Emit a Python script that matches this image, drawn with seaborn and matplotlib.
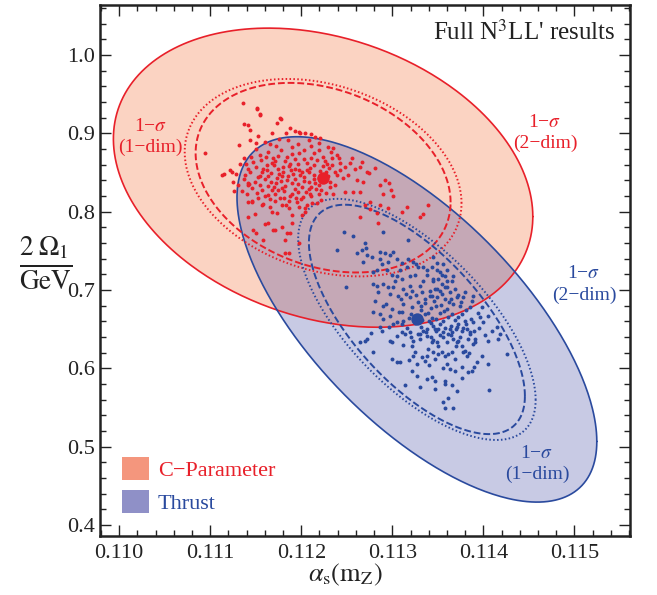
import numpy as np
import matplotlib
matplotlib.use("Agg")
import matplotlib.pyplot as plt
import seaborn as sns
import pandas as pd
from matplotlib.patches import Patch
from matplotlib.ticker import MultipleLocator, FormatStrFormatter

# best fit points
red_center = [0.11224, 0.8433]
blue_center = [0.11327, 0.6624]
# 1-dim uncertainties (sigma_x, sigma_y, rho): total (dotted) and theory-only (dashed)
red_total = [0.00152, 0.1260, -0.26]
red_dashed = [0.00140, 0.1210, -0.26]
blue_total = [0.001304, 0.1539, -0.668]
blue_dashed = [0.001186, 0.1464, -0.668]
two_dim_scale = 1.515  # sqrt(2.3)

# scan points
red_pts = [
    (0.11136,0.9389),(0.11151,0.9325),(0.11155,0.9236),(0.11177,0.9197),(0.11173,0.9134),(0.11188,0.9070),
    (0.11199,0.9006),(0.11141,0.9108),(0.11144,0.9045),(0.11151,0.9312),(0.11155,0.9248),(0.11178,0.9185),
    (0.11137,0.9121),(0.11144,0.8917),(0.11132,0.8853),(0.11153,0.8968),(0.11168,0.9006),(0.11183,0.9006),
    (0.11193,0.9032),(0.11198,0.9019),(0.11204,0.9006),(0.11211,0.8994),(0.11215,0.8955),(0.11221,0.8943),
    (0.11137,0.8688),(0.11133,0.8612),(0.11124,0.8510),(0.11115,0.8484),(0.11128,0.8484),(0.11131,0.8344),
    (0.11126,0.8268),(0.11141,0.8369),(0.11143,0.8357),(0.11122,0.8535),(0.11113,0.8471),(0.11125,0.8382),
    (0.11094,0.8752),
    (0.11235,0.8815),(0.11234,0.8688),(0.11243,0.8624),(0.11248,0.8573),(0.11254,0.8624),(0.11259,0.8548),
    (0.11265,0.8573),(0.11267,0.8637),(0.11272,0.8510),(0.11274,0.8497),(0.11281,0.8561),(0.11287,0.8344),
    (0.11292,0.8408),(0.11296,0.8369),(0.11299,0.8280),(0.11301,0.8204),(0.11290,0.8229),(0.11268,0.8382),
    (0.11261,0.8408),(0.11257,0.8255),(0.11265,0.8255),(0.11248,0.8255),(0.11239,0.8471),(0.11237,0.8344),
    (0.11235,0.8229),(0.11246,0.8433),(0.11251,0.8471),(0.11243,0.8535),(0.11256,0.8688),(0.11239,0.8726),
    (0.11234,0.8599),
    (0.11284,0.7860),(0.11265,0.7936),(0.11276,0.8038),(0.11287,0.8089),(0.11295,0.8051),(0.11283,0.7987),
    (0.11311,0.8000),(0.11316,0.8064),(0.11330,0.7936),(0.11334,0.7975),(0.11339,0.8089),(0.11276,0.8127),
    (0.11270,0.8089),
    (0.11160,0.7847),(0.11164,0.7860),(0.11150,0.7733),(0.11171,0.7771),(0.11179,0.7809),(0.11190,0.7860),
    (0.11184,0.7733),(0.11188,0.7733),(0.11182,0.7643),(0.11197,0.7605),(0.11182,0.7478),(0.11186,0.7478),
    (0.11142,0.7936),(0.11149,0.7975),(0.11168,0.8000),(0.11173,0.7987),(0.11190,0.7962),(0.11201,0.7962),
    (0.11204,0.8000),(0.11141,0.8127),(0.11146,0.8127),(0.11157,0.8089),(0.11166,0.8064),(0.11179,0.8089),
    (0.11186,0.8051),(0.11197,0.8064),(0.11204,0.8051),(0.11212,0.8115),(0.11147,0.7771),(0.11169,0.7771),
    (0.11158,0.7643),
    (0.11160,0.889),(0.11172,0.884),(0.11185,0.891),(0.11196,0.886),(0.11208,0.892),(0.11219,0.887),
    (0.11229,0.882),(0.11150,0.880),(0.11163,0.876),(0.11178,0.878),(0.11190,0.873),(0.11203,0.879),
    (0.11214,0.875),(0.11224,0.870),(0.11233,0.876),(0.11145,0.870),(0.11156,0.866),(0.11169,0.869),
    (0.11182,0.864),(0.11193,0.867),(0.11206,0.862),(0.11217,0.866),(0.11228,0.861),(0.11139,0.861),
    (0.11150,0.857),(0.11162,0.860),(0.11174,0.855),(0.11187,0.858),(0.11198,0.853),(0.11210,0.856),
    (0.11221,0.852),(0.11231,0.856),(0.11144,0.850),(0.11155,0.846),(0.11167,0.849),(0.11179,0.845),
    (0.11191,0.848),(0.11203,0.844),(0.11214,0.847),(0.11229,0.845),(0.11137,0.842),(0.11149,0.838),
    (0.11160,0.841),(0.11172,0.836),(0.11184,0.840),(0.11196,0.835),(0.11208,0.838),(0.11219,0.834),
    (0.11232,0.838),(0.11146,0.830),(0.11157,0.827),(0.11170,0.831),(0.11181,0.826),(0.11193,0.829),
    (0.11205,0.825),(0.11216,0.829),(0.11227,0.824),(0.11140,0.822),(0.11152,0.818),(0.11164,0.821),
    (0.11177,0.817),(0.11188,0.820),(0.11200,0.816),(0.11211,0.820),(0.11222,0.815),(0.11158,0.810),
    (0.11171,0.813),(0.11183,0.809),(0.11195,0.812),(0.11206,0.808),(0.11217,0.811),
    (0.11166,0.886),(0.11190,0.882),(0.11211,0.884),(0.11155,0.872),(0.11175,0.871),(0.11198,0.875),
    (0.11219,0.879),(0.11147,0.863),(0.11168,0.862),(0.11188,0.861),(0.11211,0.869),(0.11224,0.858),
    (0.11142,0.854),(0.11162,0.853),(0.11180,0.851),(0.11201,0.850),(0.11219,0.843),(0.11152,0.844),
    (0.11173,0.843),(0.11193,0.841),(0.11211,0.832),(0.11142,0.834),(0.11163,0.833),(0.11182,0.833),
    (0.11201,0.831),(0.11222,0.828),(0.11151,0.824),(0.11171,0.823),(0.11190,0.823),(0.11210,0.822),
    (0.11146,0.813),(0.11166,0.816),(0.11187,0.814),(0.11202,0.819),(0.11180,0.857),(0.11193,0.855),
    (0.11167,0.838),(0.11175,0.828),(0.11185,0.846),(0.11157,0.850),(0.11206,0.853),
    (0.11161,0.8695),(0.11171,0.8640),(0.11184,0.8700),(0.11196,0.8605),(0.11203,0.8675),(0.11214,0.8590),
    (0.11226,0.8650),(0.11158,0.8545),(0.11170,0.8590),(0.11176,0.8485),(0.11189,0.8530),(0.11199,0.8470),
    (0.11209,0.8505),(0.11214,0.8410),(0.11227,0.8505),(0.11164,0.8455),(0.11178,0.8395),(0.11190,0.8365),
    (0.11203,0.8395),(0.11215,0.8370),(0.11155,0.8335),(0.11168,0.8280),(0.11179,0.8300),(0.11196,0.8245),
    (0.11208,0.8290),(0.11220,0.8225),(0.11160,0.8195),(0.11181,0.8180),(0.11194,0.8170),(0.11232,0.8310),
    (0.11237,0.8510),(0.11241,0.8680),(0.11176,0.8930),(0.11150,0.8880),(0.11138,0.8470),(0.11135,0.8260),
]

blue_pts = [
    (0.11247,0.7745),(0.11257,0.7694),(0.11239,0.7516),(0.11290,0.7745),(0.11317,0.7643),(0.11270,0.7605),
    (0.11267,0.7516),(0.11271,0.7541),(0.11272,0.7452),(0.11261,0.7478),(0.11268,0.7363),(0.11278,0.7427),
    (0.11287,0.7490),(0.11292,0.7478),(0.11297,0.7452),(0.11301,0.7490),(0.11287,0.7389),(0.11289,0.7325),
    (0.11295,0.7363),(0.11305,0.7389),(0.11311,0.7350),(0.11317,0.7389),(0.11323,0.7363),(0.11326,0.7325),
    (0.11316,0.7287),(0.11308,0.7261),(0.11294,0.7261),(0.11283,0.7261),(0.11279,0.7223),(0.11300,0.7197),
    (0.11305,0.7172),(0.11303,0.7108),(0.11311,0.7134),(0.11319,0.7172),(0.11325,0.7197),(0.11328,0.7287),
    (0.11334,0.7299),(0.11338,0.7261),(0.11338,0.7197),(0.11349,0.7261),(0.11355,0.7197),(0.11360,0.7108),
    (0.11345,0.7134),(0.11334,0.7108),(0.11330,0.7045),(0.11319,0.7045),(0.11312,0.7006),(0.11301,0.7032),
    (0.11295,0.7032),(0.11290,0.7070),(0.11283,0.7045),(0.11284,0.6968),(0.11279,0.7070),(0.11249,0.7032),
    (0.11297,0.6943),(0.11306,0.6917),(0.11319,0.6904),(0.11333,0.6968),(0.11341,0.6981),(0.11349,0.7006),
    (0.11358,0.7032),(0.11363,0.6968),(0.11349,0.6904),(0.11336,0.6879),(0.11328,0.6841),(0.11312,0.6815),
    (0.11290,0.6790),(0.11281,0.6853),
    (0.11279,0.6713),(0.11287,0.6688),(0.11290,0.6624),(0.11297,0.6662),(0.11305,0.6586),(0.11311,0.6713),
    (0.11301,0.6561),(0.11287,0.6523),(0.11289,0.6471),(0.11277,0.6446),(0.11272,0.6369),(0.11265,0.6331),
    (0.11270,0.6344),(0.11297,0.6344),(0.11300,0.6331),(0.11279,0.6204),(0.11311,0.6459),(0.11314,0.6433),
    (0.11323,0.6344),(0.11322,0.6280),(0.11325,0.6204),(0.11323,0.6153),(0.11333,0.6140),(0.11336,0.6089),
    (0.11338,0.6153),(0.11339,0.6242),(0.11330,0.6369),(0.11328,0.6433),(0.11334,0.6471),(0.11338,0.6408),
    (0.11300,0.6115),(0.11305,0.6076),(0.11308,0.6076),(0.11322,0.5962),(0.11327,0.5898),(0.11314,0.5783),
    (0.11338,0.5860),(0.11311,0.6561),(0.11319,0.6459),
    (0.11347,0.6497),(0.11344,0.6331),(0.11349,0.6331),(0.11345,0.6204),(0.11350,0.6178),(0.11347,0.6115),
    (0.11355,0.6204),(0.11358,0.6153),(0.11361,0.6178),(0.11366,0.6204),(0.11369,0.6115),(0.11378,0.6204),
    (0.11382,0.6153),(0.11380,0.6217),(0.11377,0.6280),(0.11371,0.6331),(0.11367,0.6369),(0.11361,0.6433),
    (0.11356,0.6459),(0.11363,0.6497),(0.11371,0.6523),(0.11377,0.6471),(0.11382,0.6497),(0.11385,0.6459),
    (0.11391,0.6369),(0.11389,0.6306),(0.11400,0.6586),(0.11405,0.6662),(0.11389,0.6586),(0.11396,0.6650),
    (0.11409,0.6471),(0.11405,0.6344),(0.11416,0.6369),(0.11426,0.6178),(0.11393,0.6076),(0.11405,0.6051),
    (0.11388,0.5962),(0.11383,0.5949),(0.11377,0.6013),(0.11360,0.6051),(0.11363,0.5987),(0.11369,0.5962),
    (0.11344,0.5885),(0.11347,0.5834),(0.11358,0.5834),(0.11358,0.5796),(0.11347,0.5732),(0.11371,0.5707),
    (0.11406,0.5720),(0.11361,0.5618),(0.11356,0.5567),(0.11358,0.5491),(0.11367,0.5491),(0.11385,0.6433),
    (0.11415,0.6523),(0.11418,0.6433),
    (0.11345,0.7427),(0.11349,0.7350),(0.11344,0.7299),(0.11356,0.7325),(0.11360,0.7261),(0.11367,0.7172),
    (0.11366,0.7108),(0.11358,0.7172),(0.11352,0.7223),(0.11350,0.7134),(0.11345,0.7108),(0.11355,0.7070),
    (0.11360,0.7032),(0.11347,0.7006),(0.11352,0.6981),(0.11369,0.7006),(0.11371,0.6904),(0.11378,0.6904),
    (0.11380,0.6968),(0.11389,0.6917),(0.11358,0.6879),(0.11344,0.6917),
    (0.11322,0.6780),(0.11331,0.6745),(0.11342,0.6770),(0.11353,0.6810),(0.11360,0.6760),(0.11367,0.6820),
    (0.11374,0.6790),(0.11381,0.6740),(0.11352,0.6700),(0.11361,0.6660),(0.11344,0.6640),(0.11336,0.6690),
    (0.11318,0.6640),(0.11312,0.6600),(0.11340,0.6600),(0.11352,0.6560),(0.11369,0.6620),(0.11377,0.6690),
    (0.11386,0.6630),(0.11394,0.6700),(0.11372,0.6560),(0.11358,0.6520),(0.11345,0.6540),(0.11331,0.6530),
    (0.11325,0.6580),(0.11316,0.6520),(0.11348,0.6470),(0.11356,0.6400),(0.11343,0.6400),(0.11330,0.6440),
    (0.11320,0.6400),(0.11364,0.6430),(0.11374,0.6400),(0.11381,0.6560),(0.11395,0.6520),(0.11402,0.6430),
    (0.11399,0.6780),(0.11387,0.6860),(0.11364,0.6880),(0.11372,0.6940),(0.11355,0.6950),(0.11341,0.6920),
    (0.11326,0.6930),(0.11315,0.6950),(0.11336,0.6830),(0.11346,0.6860),(0.11307,0.6720),(0.11300,0.6760),
    (0.11293,0.6820),(0.11391,0.6330),(0.11370,0.6280),(0.11350,0.6290),(0.11312,0.6300),(0.11305,0.6410),
    (0.11296,0.6530),(0.11384,0.6200),(0.11398,0.6160),(0.11356,0.6010),(0.11340,0.6040),(0.11327,0.6060),
    (0.11318,0.6110),(0.11390,0.6020),(0.11376,0.5880),(0.11330,0.5760),(0.11365,0.5790),
    (0.11339,0.6710),(0.11348,0.6625),(0.11357,0.6735),(0.11365,0.6695),(0.11372,0.6655),(0.11380,0.6600),
    (0.11333,0.6620),(0.11343,0.6575),(0.11356,0.6610),(0.11364,0.6545),(0.11350,0.6500),(0.11338,0.6505),
    (0.11370,0.6500),(0.11378,0.6520),(0.11366,0.6465),(0.11352,0.6430),(0.11337,0.6460),(0.11372,0.6350),
    (0.11360,0.6330),(0.11345,0.6360),(0.11383,0.6380),(0.11390,0.6470),(0.11321,0.6690),(0.11332,0.6790),
    (0.11348,0.6800),(0.11362,0.6840),(0.11375,0.6850),(0.11385,0.6780),(0.11310,0.6890),(0.11322,0.6990),
]

red = '#E8202A'
blue = '#2A4A9E'

sns.set_theme(style='ticks')
plt.rcParams['font.family'] = ['Liberation Serif', 'DejaVu Serif']
plt.rcParams['mathtext.fontset'] = 'stix'


def ellipse(center, pars, k=1.0):
    sx, sy, rho = pars
    t = np.linspace(0, 2 * np.pi, 400)
    x = center[0] + k * sx * np.cos(t)
    y = center[1] + k * sy * (rho * np.cos(t) + np.sqrt(1 - rho ** 2) * np.sin(t))
    return x, y


fig = plt.figure(figsize=(6.57, 5.95), dpi=100)
ax = fig.add_axes([0.1522, 0.0992, 0.8067, 0.8924])

# filled 2-dim regions
rx, ry = ellipse(red_center, red_total, two_dim_scale)
bx, by = ellipse(blue_center, blue_total, two_dim_scale)
ax.fill(rx, ry, color='#FBD3C2', lw=0, zorder=1)
ax.fill(bx, by, color='#1A2290', alpha=0.24, lw=0, zorder=2)
ax.plot(rx, ry, color=red, lw=1.2, zorder=3)
ax.plot(bx, by, color=blue, lw=1.2, zorder=3)

# 1-dim contours
for c, col, tot, dsh in [(red_center, red, red_total, red_dashed),
                         (blue_center, blue, blue_total, blue_dashed)]:
    x, y = ellipse(c, tot)
    ax.plot(x, y, color=col, lw=1.4, ls=(0, (0.8, 1.2)), zorder=3)
    x, y = ellipse(c, dsh)
    ax.plot(x, y, color=col, lw=1.4, ls=(0, (3.5, 1.5)), zorder=3)

df_red = pd.DataFrame(red_pts, columns=['alpha', 'omega'])
df_blue = pd.DataFrame(blue_pts, columns=['alpha', 'omega'])
sns.scatterplot(data=df_red, x='alpha', y='omega', color=red, s=8, linewidth=0, ax=ax, zorder=4)
sns.scatterplot(data=df_blue, x='alpha', y='omega', color=blue, s=8, linewidth=0, ax=ax, zorder=4)
ax.scatter(*red_center, s=80, color=red, lw=0, zorder=5)
ax.scatter(*blue_center, s=80, color=blue, lw=0, zorder=5)

ax.set_xlim(0.10979, 0.11561)
ax.set_ylim(0.386, 1.0637)
ax.xaxis.set_major_locator(MultipleLocator(0.001))
ax.xaxis.set_minor_locator(MultipleLocator(0.0002))
ax.yaxis.set_major_locator(MultipleLocator(0.1))
ax.yaxis.set_minor_locator(MultipleLocator(0.02))
ax.xaxis.set_major_formatter(FormatStrFormatter('%.3f'))
ax.yaxis.set_major_formatter(FormatStrFormatter('%.1f'))
ax.tick_params(which='both', direction='in', top=True, right=True, colors='#222222', labelsize=16, width=1.0)
ax.tick_params(which='major', length=8)
ax.tick_params(which='minor', length=4.5)
ax.tick_params(axis='x', pad=6)
for sp in ax.spines.values():
    sp.set_linewidth(1.8)
    sp.set_color('#222222')
ax.set_xlabel('')
ax.set_ylabel('')

fig.text(0.525, 0.034, r'$\alpha_{\mathrm{s}}(\mathrm{m}_{\mathrm{Z}})$', ha='center', va='center', fontsize=19, color='#222222')
fig.text(0.069, 0.558, r'$\frac{2\;\Omega_1}{\mathrm{GeV}}$', ha='center', va='center', fontsize=28, color='#222222')

ax.text(0.972, 0.949, "Full N$^3$LL' results", transform=ax.transAxes, ha='right', va='center', fontsize=18, color='#222222')

lab = '1\u2212$\\sigma$\n(1\u2212dim)'
lab2 = '1\u2212$\\sigma$\n(2\u2212dim)'
ax.text(0.11034, 0.895, lab, color=red, ha='center', va='center', fontsize=14, linespacing=1.3)
ax.text(0.114676, 0.900, lab2, color=red, ha='center', va='center', fontsize=14, linespacing=1.3)
ax.text(0.115104, 0.707, lab2, color=blue, ha='center', va='center', fontsize=14, linespacing=1.3)
ax.text(0.114588, 0.478, lab, color=blue, ha='center', va='center', fontsize=14, linespacing=1.3)

handles = [Patch(facecolor='#F4967D', edgecolor='none'), Patch(facecolor='#8F90C7', edgecolor='none')]
ax.legend(handles, ['C\u2212Parameter', 'Thrust'], loc='lower left', bbox_to_anchor=(0.0, 0.0), borderaxespad=0.6,
          frameon=False, fontsize=16, labelcolor=[red, blue], handlelength=1.2, handleheight=1.2,
          handletextpad=0.4, labelspacing=0.4)

fig.savefig('out.png', dpi=100)
